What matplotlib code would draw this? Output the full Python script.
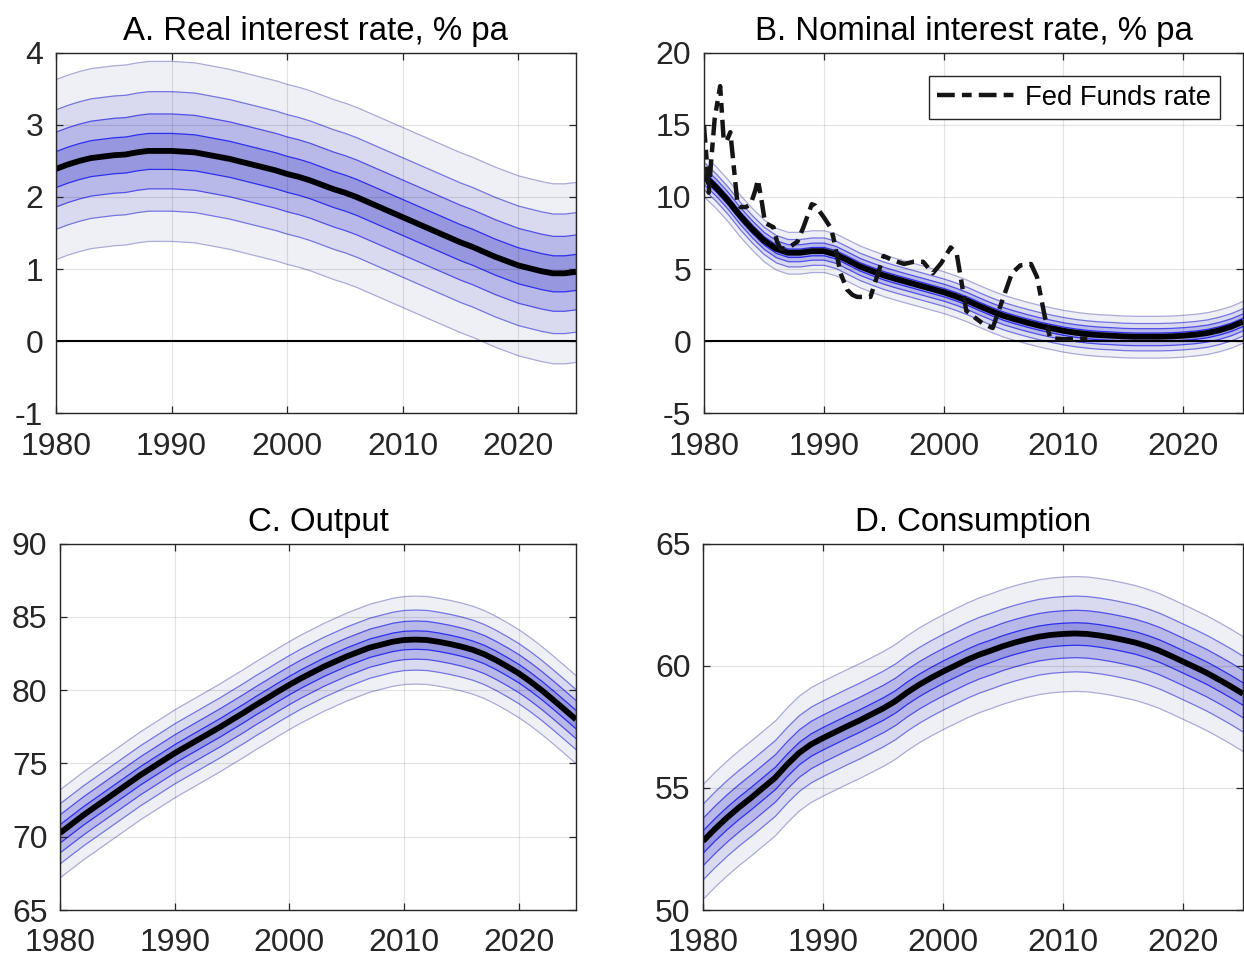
import numpy as np
import matplotlib
matplotlib.use("Agg")
import matplotlib.pyplot as plt

plt.rcParams["font.family"] = ["Liberation Sans", "DejaVu Sans"]
plt.rcParams["axes.unicode_minus"] = False

years = list(range(1980, 2026))

# Posterior medians (annual)
real_rate_med = [2.39, 2.45, 2.50, 2.54, 2.56, 2.58, 2.59, 2.62, 2.64, 2.64,
                 2.64, 2.63, 2.62, 2.59, 2.56, 2.53, 2.49, 2.45, 2.41, 2.37,
                 2.32, 2.28, 2.23, 2.17, 2.11, 2.06, 2.00, 1.93, 1.86, 1.79,
                 1.72, 1.65, 1.58, 1.51, 1.44, 1.37, 1.31, 1.24, 1.17, 1.11,
                 1.05, 1.01, 0.97, 0.94, 0.94, 0.96]
nominal_rate_med = [11.47, 10.67, 9.75, 8.71, 7.79, 6.98, 6.41, 6.13, 6.13, 6.24,
                    6.24, 6.01, 5.60, 5.18, 4.86, 4.56, 4.31, 4.08, 3.85, 3.62,
                    3.39, 3.11, 2.79, 2.42, 2.07, 1.75, 1.50, 1.27, 1.06, 0.88,
                    0.71, 0.58, 0.48, 0.41, 0.37, 0.32, 0.30, 0.30, 0.30, 0.32,
                    0.37, 0.44, 0.55, 0.74, 0.99, 1.34]
output_med = [70.25, 70.85, 71.45, 72.00, 72.55, 73.10, 73.65, 74.20, 74.70, 75.20,
              75.70, 76.15, 76.60, 77.05, 77.50, 77.98, 78.45, 78.95, 79.42, 79.90,
              80.36, 80.80, 81.20, 81.60, 81.95, 82.30, 82.60, 82.90, 83.10, 83.30,
              83.42, 83.45, 83.42, 83.30, 83.15, 82.97, 82.75, 82.45, 82.06, 81.62,
              81.15, 80.60, 80.00, 79.35, 78.68, 78.00]
consumption_med = [52.82, 53.32, 53.78, 54.20, 54.59, 55.00, 55.41, 55.95, 56.43, 56.78,
                   57.04, 57.28, 57.52, 57.75, 58.00, 58.25, 58.54, 58.90, 59.22, 59.50,
                   59.76, 60.00, 60.24, 60.45, 60.62, 60.80, 60.95, 61.08, 61.19, 61.26,
                   61.30, 61.32, 61.30, 61.24, 61.16, 61.06, 60.95, 60.80, 60.62, 60.40,
                   60.17, 59.94, 59.70, 59.43, 59.15, 58.85]

# Half-widths of the 80%, 60%, 40% and 20% credible bands
real_rate_half = [1.25, 0.83, 0.52, 0.25]
nominal_rate_half = [1.45, 0.95, 0.59, 0.29]
output_half = [3.00, 2.05, 1.30, 0.63]
consumption_half = [2.35, 1.55, 0.97, 0.46]

# Effective Fed Funds rate
ff_year = [1980.0, 1980.2, 1980.4, 1980.6, 1980.9, 1981.35, 1981.65, 1981.9, 1982.2,
           1982.8, 1983.05, 1983.5, 1983.9, 1984.3, 1984.5, 1984.8, 1985.1, 1985.8,
           1986.1, 1986.4, 1987.1, 1987.8, 1988.3, 1989.0, 1989.3, 1990.0, 1990.55,
           1990.8, 1991.4, 1991.95, 1992.4, 1992.8, 1993.9, 1994.45, 1995.0, 1995.8,
           1996.7, 1997.5, 1998.3, 1999.1, 1999.8, 2000.6, 2001.1, 2001.9, 2002.5,
           2003.3, 2004.1, 2004.9, 2005.7, 2006.4, 2007.3, 2007.8, 2008.45, 2008.9,
           2010.1, 2012.0]
ff_rate = [15.0, 12.8, 10.3, 12.5, 15.5, 17.7, 13.9, 13.9, 14.5,
           9.5, 9.3, 9.3, 9.5, 10.5, 11.2, 9.8, 8.2, 7.9,
           6.9, 6.4, 6.5, 6.9, 7.9, 9.5, 9.4, 8.6, 7.9,
           7.2, 4.7, 3.56, 3.2, 3.06, 3.06, 4.5, 5.9, 5.6,
           5.35, 5.5, 5.5, 4.7, 5.4, 6.5, 6.05, 2.1, 1.7,
           1.2, 0.9, 2.8, 4.7, 5.25, 5.35, 4.45, 1.7, 0.2,
           0.12, 0.18]

band_faces = ["#efeff6", "#d9daef", "#b8b9e8", "#9697df"]
band_edges = ["#aaaad8", "#7475e2", "#4f50e8", "#2c2ef0"]
INK = "#262626"


def fan(ax, med, half):
    med = np.asarray(med)
    x = np.asarray(years)
    for h, fc, ec in zip(half, band_faces, band_edges):
        ax.fill_between(x, med - h, med + h, facecolor=fc, edgecolor=ec,
                        linewidth=0.9, zorder=1)
    ax.plot(x, med, color="black", lw=4.2, zorder=3, solid_capstyle="butt")


def style(ax, title, ylim, yticks, xpad):
    ax.set_xlim(1980, 2025)
    ax.set_ylim(*ylim)
    ax.set_xticks([1980, 1990, 2000, 2010, 2020])
    ax.set_yticks(yticks)
    ax.set_axisbelow(False)
    ax.grid(True, color="black", alpha=0.11, lw=0.8)
    ax.tick_params(direction="in", top=True, right=True, length=5, width=0.9,
                   color=INK, labelcolor=INK, labelsize=23)
    ax.tick_params(axis="x", pad=xpad)
    ax.tick_params(axis="y", pad=9)
    for sp in ax.spines.values():
        sp.set_color(INK)
        sp.set_linewidth(1.0)
        sp.set_zorder(6)
    ax.set_title(title, fontsize=23.8, pad=9, color="black")


fig = plt.figure(figsize=(12.44, 9.67), dpi=100)
axA = fig.add_axes([0.0450, 0.5729, 0.4180, 0.3723])
axB = fig.add_axes([0.5659, 0.5729, 0.4333, 0.3723])
axC = fig.add_axes([0.0482, 0.0589, 0.4148, 0.3790])
axD = fig.add_axes([0.5651, 0.0589, 0.4341, 0.3790])

fan(axA, real_rate_med, real_rate_half)
axA.axhline(0, color="black", lw=1.5, zorder=2.8)
style(axA, "A. Real interest rate, % pa", (-1, 4), [-1, 0, 1, 2, 3, 4], 14)

fan(axB, nominal_rate_med, nominal_rate_half)
axB.axhline(0, color="black", lw=1.5, zorder=2.8)
axB.plot(ff_year, ff_rate, color="#151515", lw=3.2, zorder=4,
         linestyle=(0, (4.0, 1.6, 2.2, 1.6)), label="Fed Funds rate")
style(axB, "B. Nominal interest rate, % pa", (-5, 20), [-5, 0, 5, 10, 15, 20], 14)
leg = axB.legend(loc="upper right", fontsize=19.8, handlelength=2.8,
                 fancybox=False, framealpha=1, edgecolor=INK,
                 borderaxespad=0.85, borderpad=0.3, handletextpad=0.4)
leg.get_frame().set_linewidth(1.0)

fan(axC, output_med, output_half)
style(axC, "C. Output", (65, 90), [65, 70, 75, 80, 85, 90], 13)

fan(axD, consumption_med, consumption_half)
style(axD, "D. Consumption", (50, 65), [50, 55, 60, 65], 13)

fig.savefig("out.png", dpi=100)
